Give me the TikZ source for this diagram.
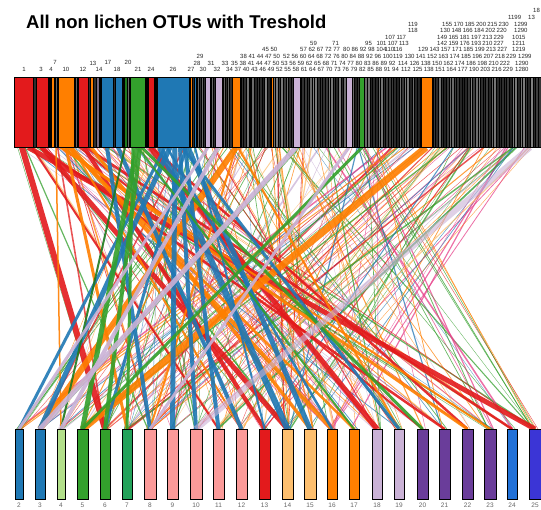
\documentclass[tikz,border=0pt]{standalone}
\usepackage{fontspec}
\setmainfont{Liberation Sans}
\pgfdeclarelayer{bg}
\pgfsetlayers{bg,main}
\definecolor{cred}{HTML}{E31A1C}
\definecolor{corange}{HTML}{FF7F00}
\definecolor{cblue}{HTML}{1F78B4}
\definecolor{cgreen}{HTML}{33A02C}
\definecolor{clgreen}{HTML}{B2DF8A}
\definecolor{cpink}{HTML}{FB9A99}
\definecolor{clorange}{HTML}{FDBF6F}
\definecolor{clav}{HTML}{CAB2D6}
\definecolor{cpurple}{HTML}{6A3D9A}
\definecolor{cteal}{HTML}{23A25A}
\definecolor{cbluetwo}{HTML}{2171D8}
\definecolor{cviolet}{HTML}{3B35D6}
\definecolor{cdgreen}{HTML}{1E7A1E}
\definecolor{cmag}{HTML}{E7408A}
\colorlet{c0}{cred}
\colorlet{c1}{corange}
\colorlet{c2}{cblue}
\colorlet{c3}{cgreen}
\colorlet{c4}{clav}
\colorlet{c5}{cmag}
\colorlet{c6}{clorange}
\colorlet{c7}{cred}
\colorlet{c8}{corange}
\colorlet{c9}{cgreen}
\newcommand{\labrow}[7]{\foreach \i in {0,...,#4}{\pgfmathsetmacro\xx{#2+\i*#3}\pgfmathtruncatemacro\nn{#5+\i*#6}\node[lab, anchor=west] (#7\i) at (\xx,#1) {\nn};}}
\begin{document}
\begin{tikzpicture}[x=1pt, y=-1pt,
  lab/.style={font=\fontsize{6}{6}\selectfont, inner sep=0pt, text=black!85},
  botbar/.style={draw=black, line width=0.9pt, minimum height=70pt, inner sep=0pt, anchor=north},
  botlab/.style={font=\fontsize{6.5}{6.5}\selectfont, text=black!60, inner sep=0pt},
  seg/.style={draw=black, line width=0.5pt}]
\useasboundingbox (0,0) rectangle (541,509);

\node[anchor=west, font=\bfseries\fontsize{18.5}{18.5}\selectfont, inner sep=0pt] (title) at (26,22) {All non lichen OTUs with Treshold};

% bottom bars
\foreach \i/\cx/\w/\cc in {2/19/8/cblue, 3/40/10/cblue, 4/61/8/clgreen, 5/82.5/11/cgreen, 6/105/10/cgreen, 7/127/10/cteal, 8/150/12/cpink, 9/172.5/11/cpink, 10/196/12/cpink, 11/218.5/11/cpink, 12/241.5/11/cpink, 13/264.5/11/cred, 14/287.5/11/clorange, 15/310/12/clorange, 16/332/10/corange, 17/354/10/corange, 18/377/10/clav, 19/399/10/clav, 20/422.5/11/cpurple, 21/444.5/11/cpurple, 22/467.5/11/cpurple, 23/490/12/cpurple, 24/512/10/cbluetwo, 25/535/12/cviolet}{
  \node[botbar, fill=\cc, minimum width=\w pt] (b\i) at (\cx,429) {};
  \node[botlab] (l\i) at (\cx,505) {\i};
}

% top bar
\node[minimum width=527pt, minimum height=70pt, inner sep=0pt, anchor=north west] (top) at (14,77) {};
\fill[black!82] (14,77) rectangle (541,147);
\pgfmathsetseed{11}
\foreach \i in {0,...,113}{
  \pgfmathsetmacro\sx{241+\i*2.63}
  \pgfmathtruncatemacro\sh{rnd<0.35 ? 50+rnd*12 : 76+rnd*12}
  \fill[black!\sh] (\sx,77) rectangle (\sx+2.63,147);
  \draw[black, line width=0.4pt] (\sx,77) -- (\sx,147);
}
\foreach \a/\b in {49/50.5, 55/57, 75/77, 99.5/100.5, 122.5/123.5, 127.5/129, 146/147.5, 155/156.5, 197/199, 201/203.5, 211/213, 223/225, 227/229}
  \filldraw[fill=black!60, draw=black, line width=0.3pt] (\a,77) rectangle (\b,147);
\foreach \a/\b/\cc in {14/33/cred, 36/48/cred, 51/54/corange, 58/74/corange, 78/88/cred, 90/93/corange, 96/99/clav!60!black, 101/113/cblue, 115/122/cblue, 124/127/cdgreen, 130/145/cgreen, 148/154/cred, 157/189/cblue, 190/192/corange, 194/196/cblue, 205/210/clav, 215/222/clav, 232/240/corange, 250/251.5/cred, 271/273/corange, 293/300/clav, 346/352/clav, 359/364/cgreen, 421/432/corange}
  \filldraw[seg, fill=\cc] (\a,77) rectangle (\b,147);
\draw[black, line width=0.6pt] (14,77) rectangle (541,147);

% labels above top bar
\foreach \x/\t [count=\n] in {24/1, 41/3, 51/4, 66/10, 83/12, 99/14, 117/18, 138/21, 151/24, 173/26, 191/27, 203/30, 217/32}
  \node[lab] (ta\n) at (\x,69) {\t};
\foreach \x/\y/\t [count=\n] in {55/62/7, 93/63/13, 108/62/17, 128/62/20, 200/56/29, 197/63/28, 211/63/31, 225/63/33}
  \node[lab] (tb\n) at (\x,\y) {\t};
\labrow{69}{226}{8.3}{20}{34}{3}{ra}
\labrow{69}{401}{11.3}{9}{112}{13}{rb}
\node[lab, anchor=west] (rx1) at (515,69) {1280};
\labrow{63}{231}{8.3}{19}{35}{3}{rc}
\labrow{63}{398}{11.3}{9}{114}{12}{rd}
\node[lab, anchor=west] (rx2) at (515,63) {1290};
\labrow{56}{240}{8.3}{4}{38}{3}{re}
\labrow{56}{283}{8.3}{12}{52}{4}{rf}
\labrow{56}{393}{11.3}{10}{119}{11}{rg}
\node[lab, anchor=west] (rx3) at (518,56) {1299};
\labrow{49}{262}{8.3}{1}{45}{5}{rh}
\labrow{49}{300}{8.3}{4}{57}{5}{ri}
\labrow{49}{343}{8.3}{6}{80}{6}{rj}
\labrow{49}{418}{11.3}{7}{129}{14}{rk}
\node[lab, anchor=west] (rx4) at (512,49) {1219};
\labrow{43}{310}{22}{1}{59}{12}{rl}
\labrow{43}{365}{11.3}{3}{95}{6}{rm}
\labrow{43}{437}{11.3}{5}{142}{17}{rn}
\node[lab, anchor=west] (rx5) at (512,43) {1211};
\labrow{37}{385}{11.3}{1}{107}{10}{ro}
\labrow{37}{437}{11.3}{5}{149}{16}{rp}
\node[lab, anchor=west] (rx6) at (512,37) {1015};
\node[lab, anchor=west] (rx7) at (408,30) {118};
\labrow{30}{440}{11.3}{5}{130}{18}{rq}
\node[lab, anchor=west] (rx8) at (514,30) {1290};
\node[lab, anchor=west] (rx9) at (408,24) {119};
\labrow{24}{442}{11.3}{5}{155}{15}{rr}
\node[lab, anchor=west] (rx10) at (514,24) {1299};
\node[lab, anchor=west] (rx11) at (508,17) {1199};
\node[lab, anchor=west] (rx12) at (528,17) {13};
\node[lab, anchor=west] (rx13) at (533,10) {18};

% connectors
\begin{pgfonlayer}{bg}
\fill[white] (0,0) rectangle (541,509);
\pgfmathsetseed{2024}
\foreach \k in {1,...,240}{
  \pgfmathsetmacro\xt{15+rnd*525}
  \pgfmathsetmacro\dx{\xt<150 ? 45+rnd*400 : (\xt>380 ? -(140+rnd*260) : -260+rnd*520)}
  \pgfmathsetmacro\xb{max(19,min(535,\xt+\dx))}
  \pgfmathtruncatemacro\bi{round((\xb-19)/22.43)+2}
  \pgfmathtruncatemacro\ci{int(rnd*9.99)}
  \pgfmathsetmacro\ww{0.3+rnd*rnd*1.6}
  \pgfmathsetmacro\off{-3.5+rnd*7}
  \draw[line width=\ww pt, draw=c\ci, opacity=.75] ([xshift={(\xt-14)*1pt}]top.south west) -- ([xshift=\off pt]b\bi.north);
}
\foreach \xt/\bi/\cc/\ww in {22/6/cred/6, 28/25/cred/5, 42/14/cred/5, 40/21/cred/2.5, 84/13/cred/4, 86/24/cred/2.5, 32/11/cred/2, 150/18/cred/5, 152/22/cred/2.5, 80/20/cred/2,
  236/3/corange/6, 426/5/corange/7, 66/7/corange/3, 56/4/corange/1.5, 70/16/corange/4, 62/22/corange/3, 68/17/corange/2.5, 60/23/corange/2, 91/15/corange/3, 236/8/corange/2, 238/19/corange/2, 72/12/corange/2,
  170/3/cblue/5, 175/9/cblue/5, 180/10/cblue/4, 185/11/cblue/4, 160/14/cblue/6, 188/15/cblue/5, 107/8/cblue/4, 118/12/cblue/4, 182/19/cblue/3, 165/2/cblue/3, 186/6/cblue/3, 167/16/cblue/2.5, 195/13/cblue/2,
  137/5/cgreen/5, 140/6/cgreen/4, 133/7/cgreen/3, 125/4/cdgreen/2, 362/5/cgreen/3, 142/20/cgreen/3, 138/17/cgreen/2,
  296/3/clav/5, 218/4/clav/4, 208/2/clav/3, 349/8/clav/3}
  \draw[line width=\ww pt, draw=\cc, opacity=.9] ([xshift={(\xt-14)*1pt}]top.south west) -- (b\bi.north);
\draw[line width=6pt, draw=clav, opacity=.6] ([xshift=516pt]top.south west) -- (b10.north);
\end{pgfonlayer}
\end{tikzpicture}
\end{document}
